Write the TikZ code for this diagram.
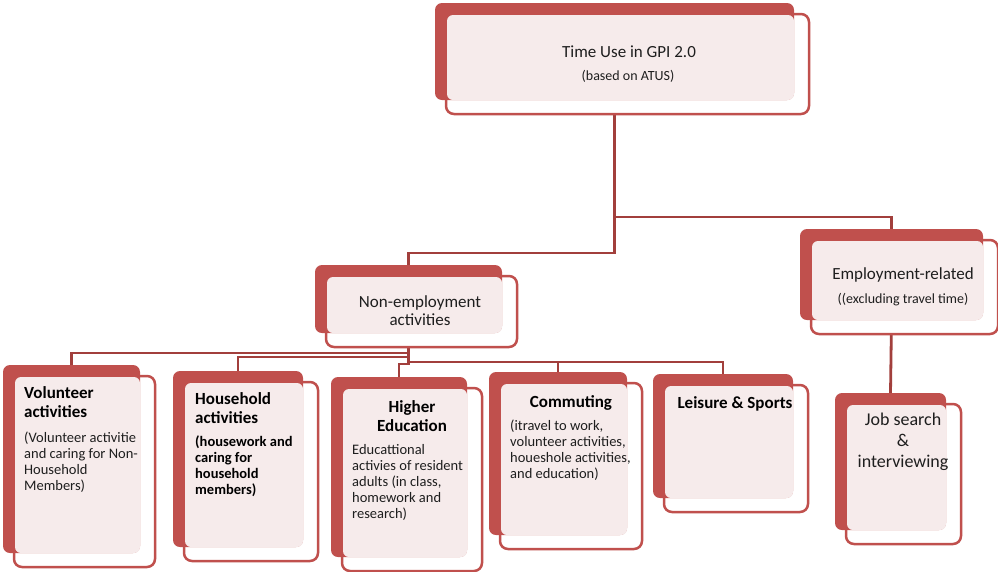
\documentclass[tikz,border=0pt]{standalone}
\usepackage{fontspec}
\setmainfont{Carlito}
\usetikzlibrary{positioning}
\definecolor{boxred}{HTML}{C0504D}
\definecolor{linkred}{HTML}{A23F3C}
\definecolor{panepink}{HTML}{F6EBEB}
\definecolor{inktext}{HTML}{1E1E1E}
\pgfdeclarelayer{background}
\pgfsetlayers{background,main}
\tikzset{
darkbox/.style={fill=boxred, rounded corners=7pt, inner sep=0pt, outer sep=0pt},
paneline/.style={draw=boxred, line width=2.5pt, fill=white, rounded corners=8pt},
panefill/.style={fill=panepink, rounded corners=6pt},
link/.style={draw=linkred, line width=2.8pt},
title/.style={font=\fontsize{17}{18}\selectfont, text=inktext, inner sep=0pt, anchor=base, align=center},
note/.style={font=\fontsize{14}{16}\selectfont, text=inktext, inner sep=0pt, anchor=base},
head/.style={font=\fontsize{17}{18.5}\selectfont\bfseries, text=black, inner sep=0pt},
desc/.style={font=\fontsize{14.5}{15.8}\selectfont, text=inktext, inner sep=0pt, anchor=base west, align=left}
}
\newcommand{\gpipanel}[5]{%
\draw[paneline] (#2+11,#3+11) rectangle (#4+15,#5+14);
\node[darkbox, minimum width={(#4-#2)*1pt}, minimum height={(#5-#3)*1pt}, anchor=north west] (#1) at (#2,#3) {};
\fill[panefill] (#2+12,#3+12) rectangle (#4,#5);
}

\begin{document}
\begin{tikzpicture}[x=1pt,y=-1pt]
\useasboundingbox (0,0) rectangle (998,571);

\gpipanel{top}{435}{3}{794}{100}
\gpipanel{nonemp}{315}{265}{502}{333}
\gpipanel{emp}{800}{229}{983}{320}
\gpipanel{vol}{3}{365}{140}{553}
\gpipanel{house}{173}{371}{303}{547}
\gpipanel{higher}{331}{377}{467}{557}
\gpipanel{comm}{489}{372}{627}{535}
\gpipanel{leisure}{653}{374}{793}{498}
\gpipanel{job}{835}{393}{946}{530}

\node[title] (toptitle) at (629,57) {Time Use in GPI 2.0};
\node[note] (topnote) at (628,80) {(based on ATUS)};
\node[title] (nonemptext) at (420,325) {Non-employment\\activities};
\node[title] (emptitle) at (903,279) {Employment-related};
\node[note] (empnote) at (903,303) {((excluding travel time)};
\node[head, anchor=base west, align=left] (volhead) at (24,417) {Volunteer\\activities};
\node[desc] (voldesc) at (24,490) {(Volunteer activitie\\and caring for Non-\\Household\\Members)};
\node[head, anchor=base west, align=left] (househead) at (195,423) {Household\\activities};
\node[desc, font=\fontsize{14.5}{15.8}\selectfont\bfseries, text=black] (housedesc) at (195,494) {(housework and\\caring for\\household\\members)};
\node[head, anchor=base, align=center] (highhead) at (412,431) {Higher\\Education};
\node[desc] (highdesc) at (352,518) {Educattional\\activies of resident\\adults (in class,\\homework and\\research)};
\node[head, anchor=base] (commhead) at (571,407) {Commuting};
\node[desc] (commdesc) at (510,478) {(itravel to work,\\volunteer activities,\\houeshole activities,\\and education)};
\node[head, anchor=base] (leishead) at (735,408) {Leisure \& Sports};
\node[title, font=\fontsize{18}{21}\selectfont] (jobtext) at (903,467) {Job search\\\&\\interviewing};

\begin{pgfonlayer}{background}
\fill[white] (0,0) rectangle (998,571);
\draw[link] (top.south) -- ++(0,153) -| (nonemp.north);
\draw[link] (top.south) -- ++(0,117) -| (emp.north);
\draw[link] (nonemp.south) -- ++(0,20) -| (vol.north);
\draw[link] (nonemp.south) -- ++(0,24) -| (house.north);
\draw[link] (nonemp.south) -- ++(0,31) -| (higher.north);
\draw[link] (nonemp.south) -- ++(0,29) -| (comm.north);
\draw[link] (nonemp.south) -- ++(0,29) -| (leisure.north);
\draw[link] (emp.south) -- (job.north);
\end{pgfonlayer}
\end{tikzpicture}
\end{document}
